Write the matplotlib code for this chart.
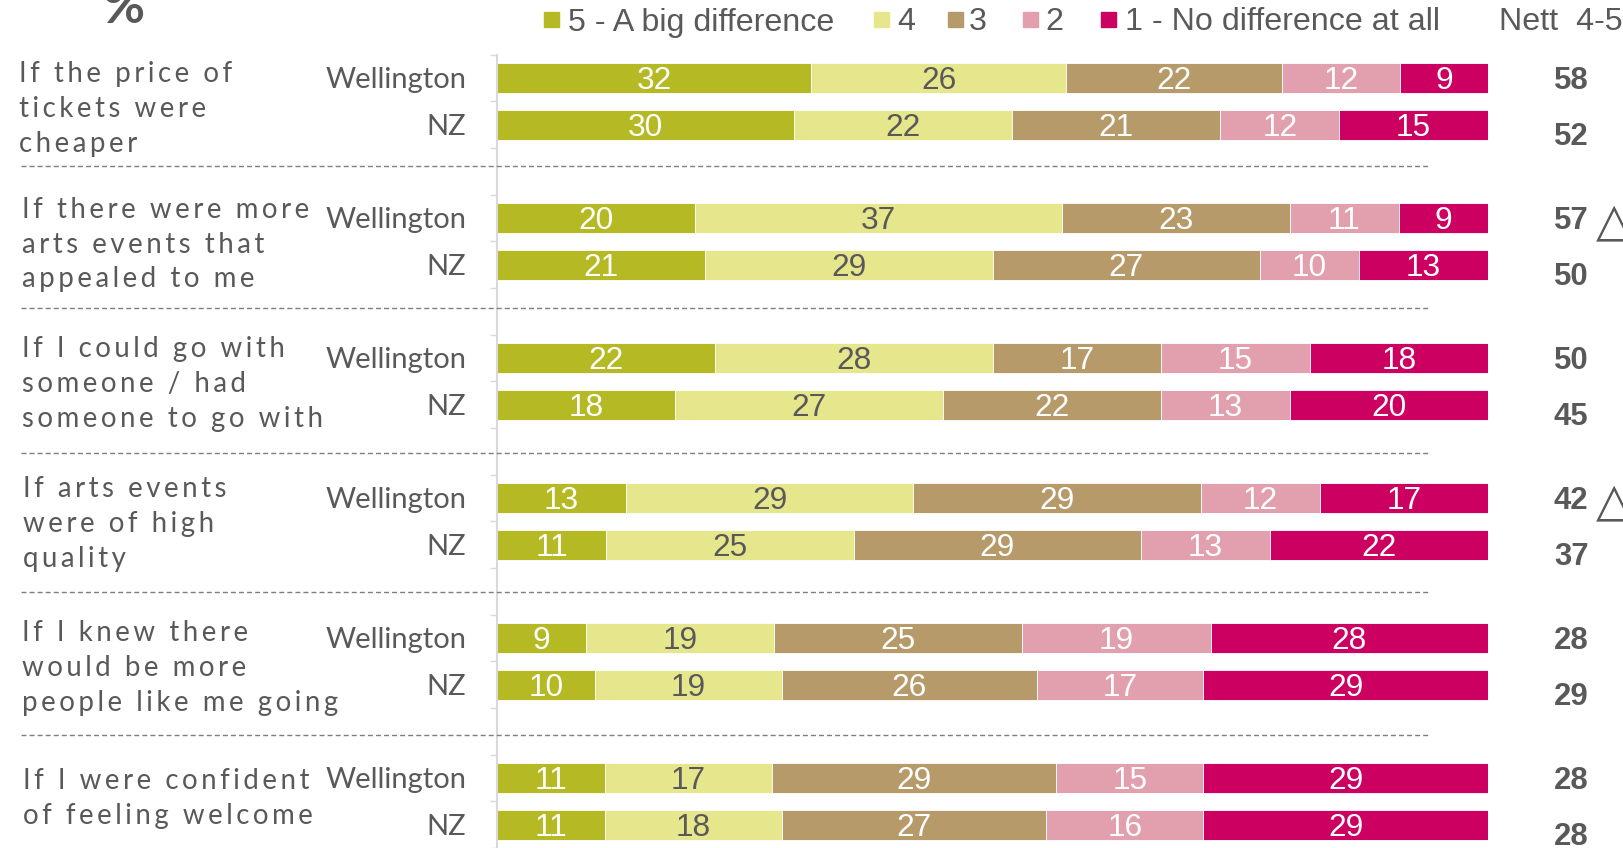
import numpy as np
import matplotlib
matplotlib.use('Agg')
import matplotlib.pyplot as plt
from matplotlib import font_manager
from matplotlib.lines import Line2D
from matplotlib.patches import Rectangle

# data
questions = [
    ['If the price of', 'tickets were', 'cheaper'],
    ['If there were more', 'arts events that', 'appealed to me'],
    ['If I could go with', 'someone / had', 'someone to go with'],
    ['If arts events', 'were of high', 'quality'],
    ['If I knew there', 'would be more', 'people like me going'],
    ['If I were confident', 'of feeling welcome'],
]
regions = ['Wellington', 'NZ']
scale_labels = ['5 - A big difference', '4', '3', '2', '1 - No difference at all']
# rows go Wellington, NZ for each question
score5 = [32, 30, 20, 21, 22, 18, 13, 11, 9, 10, 11, 11]
score4 = [26, 22, 37, 29, 28, 27, 29, 25, 19, 19, 17, 18]
score3 = [22, 21, 23, 27, 17, 22, 29, 29, 25, 26, 29, 27]
score2 = [12, 12, 11, 10, 15, 13, 12, 13, 19, 17, 15, 16]
score1 = [9, 15, 9, 13, 18, 20, 17, 22, 28, 29, 29, 29]
nett = [58, 52, 57, 50, 50, 45, 42, 37, 28, 29, 28, 28]
sig_higher = [False, False, True, False, False, False, True, False, False, False, False, False]

colors = ['#B5BA24', '#E6E68C', '#B69A6A', '#E2A0AE', '#CC0061']
label_colors = ['white', '#595959', 'white', 'white', 'white']
grey = '#595959'

names = {f.name for f in font_manager.fontManager.ttflist}
narrow = 'Liberation Sans Narrow' if 'Liberation Sans Narrow' in names else 'Liberation Sans'
body = ['Lato', 'DejaVu Sans']

W, H = 1623, 848
fig = plt.figure(figsize=(W / 100, H / 100), dpi=100)


def fx(x):
    return x / W


def fy(y):
    return 1 - y / H


slot = 46.7
top = 54.6
ax = fig.add_axes([fx(497), 0, 991 / W, fy(top)])

series = np.array([score5, score4, score3, score2, score1], dtype=float)
totals = series.sum(axis=0)
shares = series / totals * 100
ypos = [3 * g + r for g in range(len(questions)) for r in range(2)]

left = np.zeros(len(ypos))
for i in range(5):
    bars = ax.barh(ypos, shares[i], left=left, height=0.64, color=colors[i],
                   edgecolor='white', linewidth=0.6, label=scale_labels[i])
    texts = ax.bar_label(bars, labels=[str(int(v)) for v in series[i]], label_type='center',
                         color=label_colors[i], fontsize=22.8, family=narrow)
    for t in texts:
        t.set_va('center_baseline')
    left += shares[i]

ax.set_xlim(0, 100)
ax.set_ylim(-0.5 + (H - top) / slot, -0.5)
ax.xaxis.set_visible(False)
for s in ['top', 'right', 'bottom']:
    ax.spines[s].set_visible(False)
ax.spines['left'].set_color('#D9D9D9')
ax.spines['left'].set_linewidth(1.5)
ax.set_yticks(ypos)
ax.set_yticklabels(regions * len(questions), fontsize=21, family=body, color=grey)
ax.tick_params(axis='y', which='major', length=0, pad=22)
ax.set_yticks(np.arange(-0.5, 17, 1), minor=True)
ax.tick_params(axis='y', which='minor', length=5, color='#D9D9D9', width=1)

# nett column
for k, y in enumerate(ypos):
    dy = 0.18 if k % 2 else 0
    ax.text(108.4, y + dy, str(nett[k]), ha='center', va='center_baseline',
            fontsize=22.4, fontweight='bold', family='Liberation Sans', color=grey, clip_on=False)
    if sig_higher[k]:
        ax.text(110.9, y, '\u25b3', ha='left', va='center_baseline', fontsize=34,
                family='DejaVu Sans', color=grey, clip_on=False)

# question labels, letter spaced
first_line = [71.3, 207, 346.7, 486.5, 630.5, 778.5]
label_x = [19, 22, 22, 23, 22, 23]
for g, lines in enumerate(questions):
    for j, line in enumerate(lines):
        fig.text(fx(label_x[g]), fy(first_line[g] + 35 * j), '\u2009'.join(line),
                 ha='left', va='center_baseline', fontsize=19.9, family=body, color=grey)

# separators
for y in [165.6, 308, 453, 592, 735]:
    fig.add_artist(Line2D([fx(21), fx(1428)], [fy(y), fy(y)], color='#7F7F7F',
                          linewidth=1, dashes=(3.6, 2.2)))

# legend
sq_x = [544, 874, 948, 1023, 1101]
txt_x = [568, 897, 969, 1045, 1125]
for i in range(5):
    fig.add_artist(Rectangle((fx(sq_x[i]), fy(27)), 15 / W, 15 / H, color=colors[i]))
    fig.text(fx(txt_x[i]), fy(30.5), scale_labels[i], ha='left', va='baseline',
             fontsize=23.2, family=narrow, color=grey)
fig.text(fx(1499), fy(30.5), 'Nett  4-5', ha='left', va='baseline',
         fontsize=23.2, family=narrow, color=grey)

fig.text(fx(103), fy(23), '%', ha='left', va='baseline', fontsize=37,
         fontweight='bold', family=body, color=grey)

fig.savefig('out.png', dpi=100)
